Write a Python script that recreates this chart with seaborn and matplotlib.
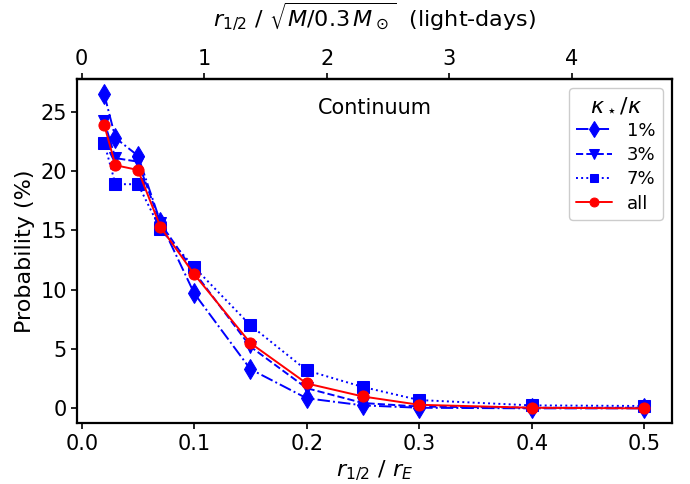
import numpy as np
import pandas as pd
import matplotlib
matplotlib.use("Agg")
import matplotlib.pyplot as plt
import seaborn as sns

r_half = [0.02, 0.03, 0.05, 0.07, 0.10, 0.15, 0.20, 0.25, 0.30, 0.40, 0.50]
p_1pct = [26.5, 22.8, 21.3, 15.7, 9.7, 3.3, 0.85, 0.25, 0.05, 0.0, 0.0]
p_3pct = [24.2, 21.1, 20.8, 15.6, 11.5, 5.2, 1.7, 0.45, 0.15, 0.05, 0.05]
p_7pct = [22.4, 18.9, 18.9, 15.1, 11.9, 7.0, 3.2, 1.8, 0.7, 0.25, 0.2]
p_all = [23.9, 20.5, 20.1, 15.3, 11.3, 5.5, 2.1, 1.0, 0.3, 0.05, 0.0]
labels = ["1%", "3%", "7%", "all"]
ld_per_rE = 9.18

sns.set_style("ticks")
plt.rcParams["font.family"] = ["DejaVu Sans"]
for k in ["text.color", "axes.labelcolor", "xtick.color", "ytick.color", "axes.edgecolor"]:
    plt.rcParams[k] = "black"

fig = plt.figure(figsize=(6.9, 4.84), dpi=100)
ax = fig.add_axes([77.3/690, 1 - 423.3/484, (671.7-77.3)/690, (423.3-79)/484])

series = [p_1pct, p_3pct, p_7pct, p_all]
styles = [("b", "-.", "d", 10), ("b", "--", "v", 9), ("b", ":", "s", 8), ("r", "-", "o", 8)]
for vals, lab, (c, ls, m, ms) in zip(series, labels, styles):
    df = pd.DataFrame({"x": r_half, "y": vals})
    sns.lineplot(data=df, x="x", y="y", ax=ax, color=c, linestyle=ls, marker=m,
                 markersize=ms, markeredgecolor=c, label=lab, lw=1.4)

ax.set_xlim(-0.0039, 0.5244)
ax.set_ylim(-1.26, 27.77)
ax.set_xticks([0.0, 0.1, 0.2, 0.3, 0.4, 0.5])
ax.set_yticks([0, 5, 10, 15, 20, 25])
ax.tick_params(labelsize=15, direction="out", length=4, width=1.2, color="black", labelcolor="black")
ax.set_xlabel(r"$r_{1/2}\ /\ r_E$", fontsize=16)
ax.set_ylabel("Probability (%)", fontsize=16)
for s in ax.spines.values():
    s.set_color("black")
    s.set_linewidth(1.6)

ax.text(0.5, 0.915, "Continuum", transform=ax.transAxes, ha="center", va="center", fontsize=15)

leg = ax.legend(title=r"$\kappa_\star/\kappa$", loc="upper right", fontsize=13,
                title_fontsize=16, handlelength=2.0, framealpha=1, borderaxespad=0.5,
                markerscale=0.8, labelspacing=0.35, handletextpad=0.8)

top = ax.secondary_xaxis("top", functions=(lambda x: x * ld_per_rE, lambda x: x / ld_per_rE))
top.set_xticks([0, 1, 2, 3, 4])
top.tick_params(labelsize=15, direction="out", length=4, width=1.2, color="black", labelcolor="black")
top.spines["top"].set_linewidth(1.6)
top.set_xlabel(r"$r_{1/2}\ /\ \sqrt{M/0.3\,M_\odot}$  (light-days)", fontsize=16, labelpad=16)

fig.savefig("out.png", dpi=100)
